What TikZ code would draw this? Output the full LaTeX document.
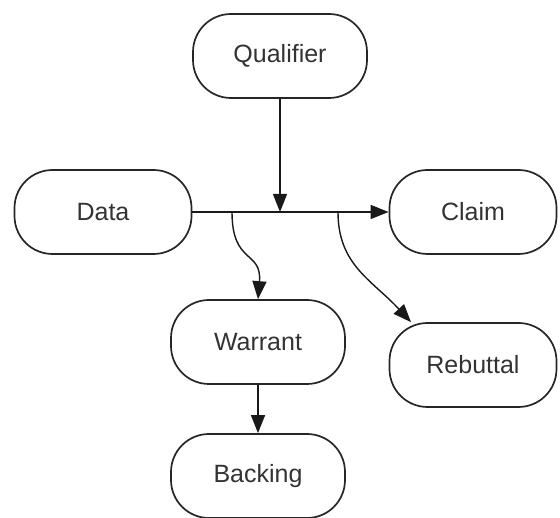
\documentclass[tikz,border=0pt]{standalone}
\usepackage{fontspec}
\setmainfont{Liberation Sans}
\usetikzlibrary{arrows.meta}
\begin{document}
\begin{tikzpicture}[x=1pt,y=-1pt,
  box/.style={draw=black!85, line width=1.7pt, rounded corners=38pt, minimum width=174pt, minimum height=84pt, inner sep=0pt, font=\fontsize{25}{29}\selectfont, text=black!80},
  conn/.style={draw=black!90, line width=1.4pt},
  arr/.style={conn, -{Triangle[length=18pt,width=14pt]}}]
\useasboundingbox (0,0) rectangle (560,518);
\node[box] (qual) at (280,56) {Qualifier};
\node[box, minimum width=177pt] (data) at (103,212) {Data};
\node[box, minimum width=167pt] (claim) at (473,212) {Claim};
\node[box] (warr) at (258,342) {Warrant};
\node[box, minimum width=167pt] (reb) at (473,365) {Rebuttal};
\node[box] (back) at (258,476) {Backing};
\coordinate (j) at (280,212);
\coordinate (w0) at (232,212);
\coordinate (r0) at (338,212);
\draw[arr] (data.east) -- (claim.west);
\draw[arr] (qual.south) -- (j);
\draw[arr] (w0) .. controls (232,265) and (262,250) .. (warr.north);
\draw[arr] (r0) .. controls (338,265) and (372,280) .. ([xshift=-62pt]reb.north);
\draw[arr] (warr.south) -- (back.north);
\end{tikzpicture}
\end{document}
